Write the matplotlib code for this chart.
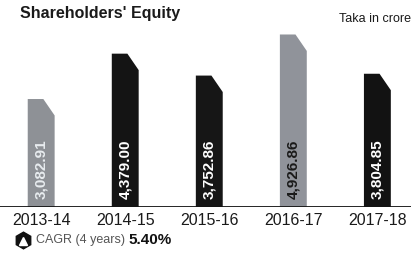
import matplotlib
matplotlib.use("Agg")
import matplotlib.pyplot as plt
from matplotlib.patches import Polygon

years = ["2013-14", "2014-15", "2015-16", "2016-17", "2017-18"]
equity = [3082.91, 4379.00, 3752.86, 4926.86, 3804.85]
labels = ["3,082.91", "4,379.00", "3,752.86", "4,926.86", "3,804.85"]
bar_colors = ["#8e9196", "#141414", "#161616", "#90939a", "#121212"]
text_colors = ["#e8ecef", "#ffffff", "#ffffff", "#1a1a1a", "#ffffff"]

fam = ["Liberation Sans", "DejaVu Sans"]

fig = plt.figure(figsize=(4.11, 2.67), dpi=100)
ax = fig.add_axes([0, 0.225, 1, 0.70])
ax.set_xlim(-0.49, 4.40)
ax.set_ylim(0, 5340)
ax.axis("off")

w = 0.32
for i, v in enumerate(equity):
    l, r = i - w / 2, i + w / 2
    cx, cy = w * 0.42, 470
    pts = [(l, 0), (l, v), (r - cx, v), (r, v - cy), (r, 0)]
    ax.add_patch(Polygon(pts, closed=True, facecolor=bar_colors[i], edgecolor="none"))
    ax.text(i, 230, labels[i], rotation=90, ha="center", va="bottom",
            fontsize=11, fontweight="bold", color=text_colors[i], family=fam)
    ax.text(i, -160, years[i], ha="center", va="top", fontsize=11.5,
            color="#1a1a1a", family=fam)

ax.axhline(0, color="#111111", lw=2)

fig.text(0.048, 0.978, "Shareholders' Equity", fontsize=11.5, fontweight="bold",
         ha="left", va="top", family=fam, color="#1a1a1a")
fig.text(1.0, 0.95, "Taka in crore", fontsize=9, ha="right", va="top",
         family=fam, color="#1a1a1a")

fig.add_artist(plt.Line2D([0.056], [0.1], marker="h", markersize=12,
                          color="#111111", transform=fig.transFigure))
fig.add_artist(plt.Line2D([0.056], [0.097], marker="^", markersize=5.5,
                          color="white", transform=fig.transFigure))
t = fig.text(0.087, 0.1, "CAGR (4 years) ", fontsize=9, ha="left", va="center",
             family=fam, color="#555555")
fig.canvas.draw()
bb = t.get_window_extent().transformed(fig.transFigure.inverted())
fig.text(bb.x1, 0.1, "5.40%", fontsize=11, fontweight="bold", ha="left",
         va="center", family=fam, color="#111111")

fig.savefig("out.png", dpi=100)
